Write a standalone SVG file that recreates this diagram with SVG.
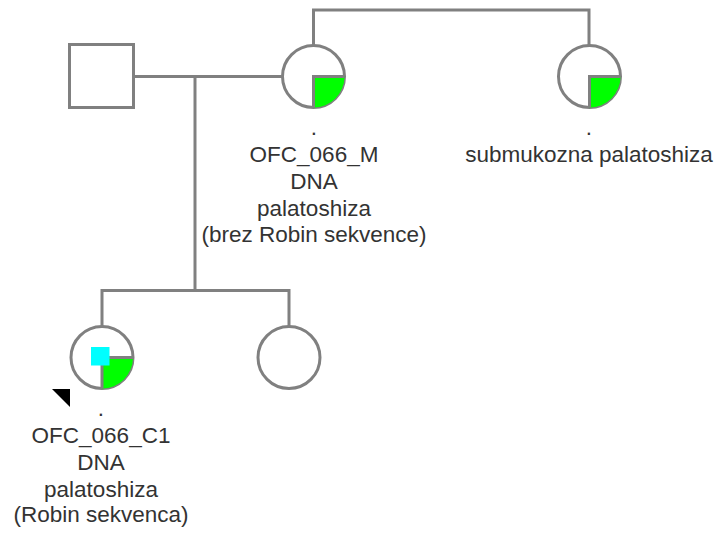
<svg xmlns="http://www.w3.org/2000/svg" width="726" height="533" viewBox="0 0 726 533">
<style>
.ln{fill:none;stroke:#808080;stroke-width:3}
.nd{fill:#fff;stroke:#808080;stroke-width:3}
.aff{fill:#00ff00;stroke:none}
.qd{fill:none;stroke:#808080;stroke-width:3}
.t{font-family:"Liberation Sans",Arial,sans-serif;font-size:22.5px;fill:#333;text-anchor:middle}
</style>
<rect width="726" height="533" fill="#fff"/>
<g id="connectors">
<path class="ln" d="M134 76.5H283"/>
<path class="ln" d="M195 76.5V290.5"/>
<path class="ln" d="M102 327V290.5H289V327"/>
<path class="ln" d="M313.5 45.5V10H589V45.5"/>
</g>
<g id="father">
<rect class="nd" x="69.5" y="44.5" width="64" height="63"/>
</g>
<g id="mother">
<circle class="nd" cx="313.5" cy="76.5" r="31"/>
<path class="aff" d="M313.5 76.5H344.5A31 31 0 0 1 313.5 107.5Z"/>
<path class="qd" d="M344.5 76.5H313.5V107.5"/>
<text class="t" x="314" y="135">.</text>
<text class="t" x="314" y="162">OFC_066_M</text>
<text class="t" x="314" y="189">DNA</text>
<text class="t" x="314" y="215.5">palatoshiza</text>
<text class="t" x="314" y="242">(brez Robin sekvence)</text>
</g>
<g id="aunt">
<circle class="nd" cx="589.5" cy="76.5" r="31"/>
<path class="aff" d="M589.5 76.5H620.5A31 31 0 0 1 589.5 107.5Z"/>
<path class="qd" d="M620.5 76.5H589.5V107.5"/>
<text class="t" x="589" y="135">.</text>
<text class="t" x="589" y="162">submukozna palatoshiza</text>
</g>
<g id="proband">
<circle class="nd" cx="102" cy="357.5" r="31"/>
<path class="aff" d="M102 357.5H133A31 31 0 0 1 102 388.5Z"/>
<path class="qd" d="M133 357.5H102V388.5"/>
<rect x="91" y="347" width="18.5" height="18.5" fill="#00ffff"/>
<polygon points="52,389 70,389 70,407" fill="#000"/>
<text class="t" x="101" y="416">.</text>
<text class="t" x="101" y="443">OFC_066_C1</text>
<text class="t" x="101" y="470">DNA</text>
<text class="t" x="101" y="496.5">palatoshiza</text>
<text class="t" x="101" y="522">(Robin sekvenca)</text>
</g>
<g id="sibling">
<circle class="nd" cx="289" cy="357.5" r="31"/>
</g>
</svg>
